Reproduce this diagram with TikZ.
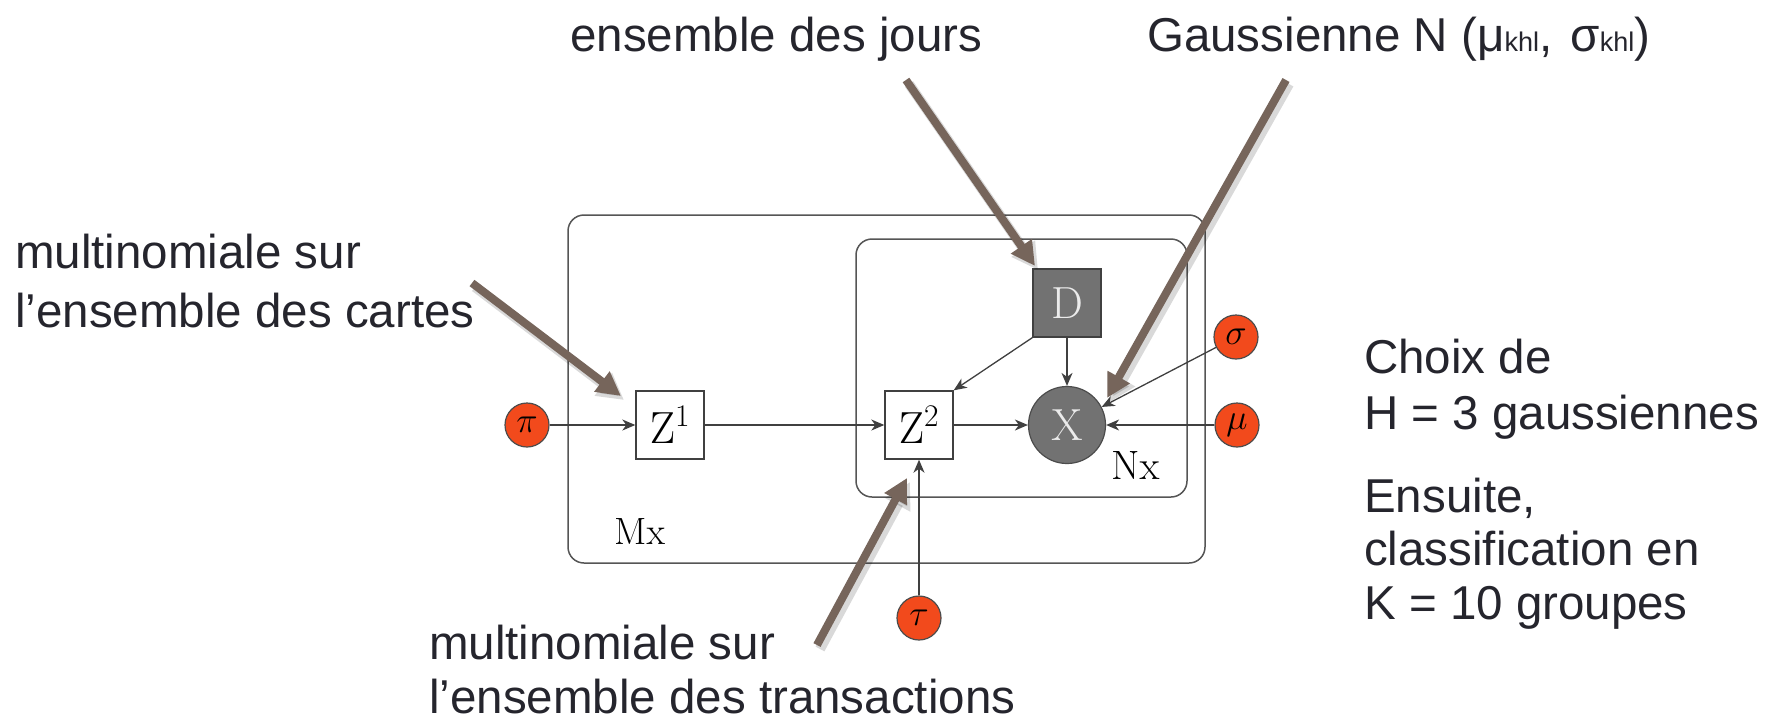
\RequirePackage{fix-cm}
\documentclass[tikz,border=0pt]{standalone}
\usepackage[no-math]{fontspec}
\setmainfont{Liberation Sans}
\usetikzlibrary{arrows.meta}
\definecolor{txtc}{HTML}{25252D}
\definecolor{brn}{HTML}{76655B}
\definecolor{redc}{HTML}{F24A1C}
\definecolor{nodegray}{HTML}{727272}
\definecolor{plategray}{HTML}{555555}
\begin{document}
\begin{tikzpicture}[x=1pt,y=-1pt,
  txt/.style={font=\fontsize{47.5}{47.5}\selectfont, text=txtc, inner sep=0pt, anchor=base west},
  plate/.style={draw=plategray, line width=1.5pt, rounded corners=16pt},
  varbox/.style={draw=black!75, line width=1.4pt, minimum width=68pt, minimum height=68pt, inner sep=0pt, fill=white, font=\fontsize{45}{45}\selectfont},
  obsbox/.style={varbox, fill=nodegray, text=white!92!black},
  obscirc/.style={circle, draw=black!70, line width=1.2pt, fill=nodegray, text=white!92!black, minimum size=77pt, inner sep=0pt, font=\fontsize{45}{45}\selectfont},
  parc/.style={circle, draw=black!70, line width=1.2pt, fill=redc, minimum size=44pt, inner sep=0pt, font=\fontsize{36}{36}\selectfont},
  platelbl/.style={inner sep=0pt, anchor=base west},
  edge/.style={draw=black!75, line width=1.3pt, -{Stealth[length=13pt,width=11pt,inset=4pt]}},
  ann/.style={draw=brn, line width=8pt, -{Triangle[length=24pt,width=24pt]}},
  annshadow/.style={draw=black, opacity=0.15, line width=10pt, -{Triangle[length=26pt,width=27pt]}}
]
\useasboundingbox[fill=white] (0,0) rectangle (1784,718);

% plates
\draw[plate] (568,215) rectangle (1205,563);
\draw[plate] (856,239) rectangle (1187,497);
\node[platelbl, font=\fontsize{38}{38}\selectfont] (mx) at (614,544) {$\mathrm{Mx}$};
\node[platelbl, font=\fontsize{41}{41}\selectfont] (nx) at (1111,479) {$\mathrm{Nx}$};

% nodes
\node[parc] (pi) at (527,425) {$\pi$};
\node[varbox] (z1) at (670,425) {$\mathrm{Z}^{1}$};
\node[varbox] (z2) at (919,425) {$\mathrm{Z}^{2}$};
\node[obsbox] (d) at (1067,303) {$\mathrm{D}$};
\node[obscirc] (x) at (1067,425) {$\mathrm{X}$};
\node[parc] (sigma) at (1236,337) {$\sigma$};
\node[parc] (mu) at (1237,425) {$\mu$};
\node[parc] (tau) at (919,618) {$\tau$};

% edges
\draw[edge] (pi) -- (z1);
\draw[edge] (z1) -- (z2);
\draw[edge] (z2) -- (x);
\draw[edge] (d.south west) -- (z2.north east);
\draw[edge] (d) -- (x);
\draw[edge] (sigma) -- (x);
\draw[edge] (mu) -- (x);
\draw[edge] (tau) -- (z2);

% texts
\node[txt] (tjours) at (570,51) {ensemble des jours};
\node[txt] (tgauss) at (1147,51) {Gaussienne N (μ{\fontsize{27}{27}\selectfont khl},\hspace{5pt} σ{\fontsize{27}{27}\selectfont khl})};
\node[txt] (tcart1) at (15,268) {multinomiale sur};
\node[txt] (tcart2) at (15,327) {l’ensemble des cartes};
\node[txt] (ttr1) at (429,659) {multinomiale sur};
\node[txt, text depth=0pt] (ttr2) at (429,713) {l’ensemble des transactions};
\node[txt] (tr1) at (1364,373) {Choix de};
\node[txt] (tr2) at (1364,429) {H = 3 gaussiennes};
\node[txt] (tr3) at (1364,512) {Ensuite,};
\node[txt] (tr4) at (1364,565) {classification en};
\node[txt] (tr5) at (1364,619) {K = 10 groupes};

% annotation arrows
\coordinate (a1s) at (906,80);   \coordinate (a1e) at (1035,266);
\coordinate (a2s) at (1286,80);  \coordinate (a2e) at (1107,398);
\coordinate (a3s) at (472,283);  \coordinate (a3e) at (621,396);
\coordinate (a4s) at (817,645);  \coordinate (a4e) at (907,478);
\foreach \s/\e in {a1s/a1e,a2s/a2e,a3s/a3e,a4s/a4e}{
  \draw[annshadow] ([shift={(3,4)}]\s) -- ([shift={(3,4)}]\e);
}
\draw[ann] (a1s) -- (a1e);
\draw[ann] (a2s) -- (a2e);
\draw[ann] (a3s) -- (a3e);
\draw[ann] (a4s) -- (a4e);
\end{tikzpicture}
\end{document}
